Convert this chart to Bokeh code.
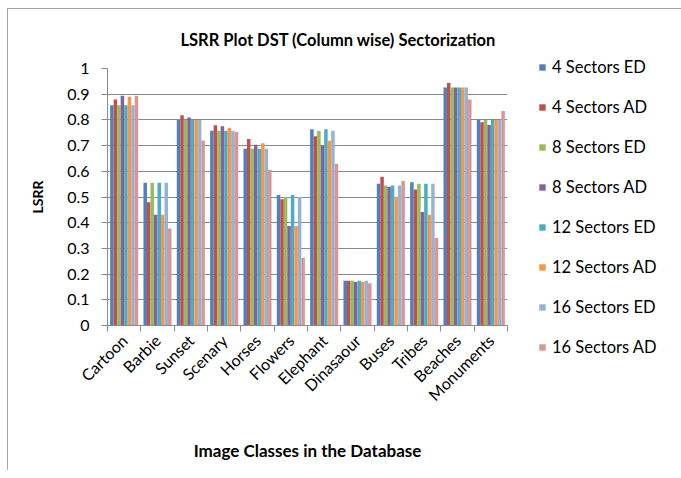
import math
from bokeh.plotting import figure
from bokeh.models import (ColumnDataSource, FixedTicker, CustomJSTickFormatter,
                          NumeralTickFormatter, Range1d, Legend, LegendItem)
from bokeh.embed import file_html
from bokeh.resources import INLINE

categories = ["Cartoon", "Barbie", "Sunset", "Scenary", "Horses", "Flowers",
              "Elephant", "Dinasaour", "Buses", "Tribes", "Beaches", "Monuments"]

series_names = ["4 Sectors ED", "4 Sectors AD", "8 Sectors ED", "8 Sectors AD",
                "12 Sectors ED", "12 Sectors AD", "16 Sectors ED", "16 Sectors AD"]

s4_ed  = [0.857, 0.555, 0.800, 0.758, 0.688, 0.508, 0.764, 0.174, 0.552, 0.557, 0.926, 0.800]
s4_ad  = [0.879, 0.480, 0.818, 0.779, 0.726, 0.491, 0.736, 0.174, 0.579, 0.529, 0.944, 0.791]
s8_ed  = [0.857, 0.555, 0.800, 0.758, 0.688, 0.500, 0.757, 0.174, 0.545, 0.552, 0.926, 0.800]
s8_ad  = [0.894, 0.431, 0.809, 0.775, 0.703, 0.387, 0.701, 0.169, 0.540, 0.442, 0.926, 0.780]
s12_ed = [0.857, 0.555, 0.800, 0.758, 0.688, 0.508, 0.764, 0.174, 0.545, 0.552, 0.926, 0.800]
s12_ad = [0.890, 0.431, 0.800, 0.769, 0.709, 0.387, 0.719, 0.169, 0.500, 0.431, 0.926, 0.800]
s16_ed = [0.857, 0.555, 0.800, 0.758, 0.688, 0.500, 0.758, 0.174, 0.545, 0.552, 0.926, 0.800]
s16_ad = [0.894, 0.377, 0.720, 0.753, 0.606, 0.264, 0.629, 0.164, 0.562, 0.340, 0.879, 0.835]

series_values = [s4_ed, s4_ad, s8_ed, s8_ad, s12_ed, s12_ad, s16_ed, s16_ad]
colors = ["#4F81BD", "#C0504D", "#9BBB59", "#8064A2", "#4BACC6", "#F79646",
          "#95B3D7", "#D99694"]

y_ticks = [round(i * 0.1, 1) for i in range(11)]

FONT = "Lato"
GRID = "#8a8a8a"

p = figure(frame_width=400, frame_height=257, output_backend="svg",
           toolbar_location=None,
           x_range=Range1d(0, len(categories)), y_range=Range1d(0, 1),
           min_border_left=99, min_border_right=170, min_border_top=59,
           min_border_bottom=145, outline_line_color=None,
           title="LSRR Plot DST (Column wise) Sectorization")
p.margin = (8, 0, 0, 7)
p.styles = {"border-left": "1px solid #a6a6a6", "border-top": "1px solid #a6a6a6",
            "border-right": "1px solid #a6a6a6"}

p.title.text_font = FONT
p.title.text_font_size = "16.5px"
p.title.text_font_style = "bold"
p.title.text_color = "#000000"
p.title.align = "left"
p.title.offset = 73
p.title.vertical_align = "top"
p.title.standoff = 34

n = len(series_values)
group_w = 1.0
bar_w = group_w / (n + 1.5)
items = []
for i, (name, vals, col) in enumerate(zip(series_names, series_values, colors)):
    xs = [k + 0.5 + (i - (n - 1) / 2) * bar_w for k in range(len(categories))]
    src = ColumnDataSource(dict(x=xs, top=vals))
    r = p.vbar(x="x", top="top", width=bar_w, source=src, fill_color=col,
               line_color=None)
    items.append(LegendItem(label=name, renderers=[r]))

# x axis
xa = p.xaxis[0]
xa.ticker = FixedTicker(ticks=[k + 0.5 for k in range(len(categories))],
                        minor_ticks=list(range(len(categories) + 1)))
xa.formatter = CustomJSTickFormatter(args=dict(cats=categories),
                                     code="return cats[Math.floor(tick)];")
xa.major_label_orientation = math.pi / 4
xa.major_tick_line_color = None
xa.minor_tick_line_color = GRID
xa.minor_tick_out = 6
xa.minor_tick_in = 0
xa.axis_line_color = GRID
xa.major_label_text_font = FONT
xa.major_label_text_font_size = "16px"
xa.major_label_text_color = "#000000"
xa.major_label_standoff = 6
xa.axis_label = "Image Classes in the Database"
xa.axis_label_text_font = FONT
xa.axis_label_text_font_size = "17px"
xa.axis_label_text_font_style = "bold"
xa.axis_label_text_color = "#000000"
xa.axis_label_standoff = 26

# y axis
ya = p.yaxis[0]
ya.ticker = FixedTicker(ticks=y_ticks)
ya.formatter = NumeralTickFormatter(format="0.[0]")
ya.major_tick_line_color = GRID
ya.major_tick_out = 6
ya.major_tick_in = 0
ya.minor_tick_line_color = None
ya.axis_line_color = GRID
ya.major_label_text_font = FONT
ya.major_label_text_font_size = "16px"
ya.major_label_text_color = "#000000"
ya.major_label_standoff = 12
ya.axis_label = "LSRR"
ya.axis_label_text_font = FONT
ya.axis_label_text_font_size = "14px"
ya.axis_label_text_font_style = "bold"
ya.axis_label_text_color = "#000000"
ya.axis_label_standoff = 18

p.xgrid.grid_line_color = None
p.ygrid.grid_line_color = GRID
p.ygrid.ticker = FixedTicker(ticks=y_ticks)

legend = Legend(items=items, location=(31, -32), padding=0, margin=0,
                border_line_color=None, background_fill_alpha=0,
                glyph_width=8, glyph_height=8, label_height=20, spacing=20,
                label_standoff=6, label_text_font=FONT,
                label_text_font_size="16.5px", label_text_color="#000000")
p.add_layout(legend, "right")

open("out.html", "w").write(file_html(p, INLINE))
